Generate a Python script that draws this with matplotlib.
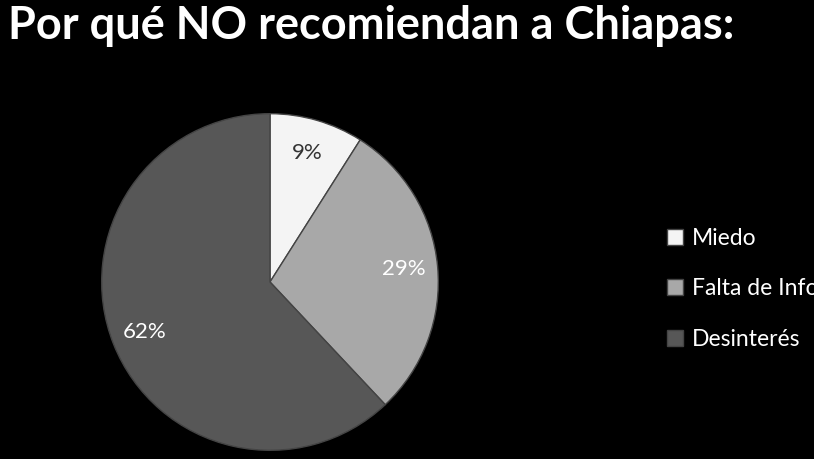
import matplotlib
matplotlib.use('Agg')
import matplotlib.pyplot as plt

labels = ['Miedo', 'Falta de Información', 'Desinterés']
values = [9, 29, 62]
colors = ['#f4f4f4', '#a8a8a8', '#575757']
pct_colors = ['#333333', 'white', 'white']

plt.rcParams['font.family'] = ['Lato', 'DejaVu Sans']

fig = plt.figure(figsize=(8.14, 4.59), dpi=100, facecolor='black')
fig.text(0.010, 0.990, 'Por qué NO recomiendan a Chiapas:', color='white',
         fontsize=32.5, fontweight='bold', ha='left', va='top')

ax = fig.add_axes([100 / 814, 1 - 452 / 459, 340 / 814, 340 / 459])
ax.set_facecolor('black')
wedges, texts, autotexts = ax.pie(values, colors=colors, startangle=90, counterclock=False,
                                  autopct='%1.0f%%', pctdistance=0.8,
                                  wedgeprops=dict(edgecolor='#444444', linewidth=1.0),
                                  textprops=dict(fontsize=16))
for t, c in zip(autotexts, pct_colors):
    t.set_color(c)
ax.set_xlim(-1.01, 1.01)
ax.set_ylim(-1.01, 1.01)
ax.set_aspect('equal')
ax.axis('off')

fig.legend(wedges, labels, loc='upper left', bbox_to_anchor=(646 / 814, 1 - 207 / 459),
           frameon=False, fontsize=16.5, labelcolor='white', handlelength=0.7,
           handleheight=0.7, handletextpad=0.4, labelspacing=1.3)

fig.savefig('out.png', dpi=100, facecolor='black')
